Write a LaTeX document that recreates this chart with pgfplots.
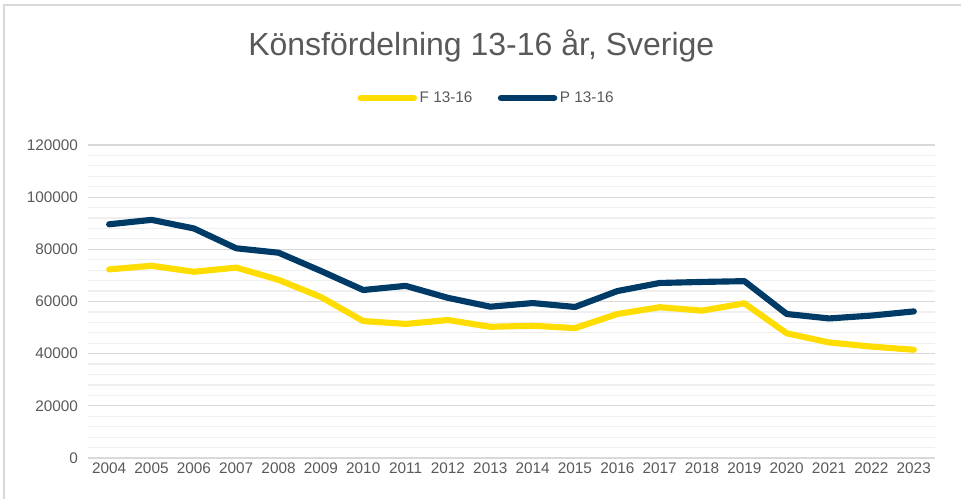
\documentclass[border=0pt]{standalone}
\usepackage{fontspec}
\setmainfont{Liberation Sans}
\usepackage{pgfplots}
\pgfplotsset{compat=1.18}
\definecolor{fy}{HTML}{FFDD00}
\definecolor{pn}{HTML}{003A66}
\definecolor{txt}{HTML}{595959}
\definecolor{gmaj}{HTML}{D9D9D9}
\definecolor{gmin}{HTML}{EFEFEF}

\begin{document}
\begin{tikzpicture}
\useasboundingbox (0,0) rectangle (720.75pt,374.25pt);
\draw[gmaj,line width=1.5pt] (2.7pt,0pt) -- (2.7pt,370.4pt) -- (720.75pt,370.4pt);
\node[txt,font=\fontsize{24}{28}\selectfont] at (361pt,340pt) {Könsfördelning 13-16 år, Sverige};
\begin{axis}[
  at={(66pt,30.75pt)}, anchor=south west,
  scale only axis, width=635.25pt, height=234.75pt,
  xmin=2003.5, xmax=2023.5, ymin=0, ymax=120000,
  xtick={2004,...,2023}, ytick={0,20000,...,120000},
  xticklabels={2004,2005,2006,2007,2008,2009,2010,2011,2012,2013,2014,2015,2016,2017,2018,2019,2020,2021,2022,2023},
  yticklabels={0,20000,40000,60000,80000,100000,120000},
  minor y tick num=4,
  axis line style={draw=none},
  major tick length=0pt, minor tick length=0pt,
  ymajorgrids, yminorgrids,
  major grid style={gmaj,line width=0.9pt},
  minor grid style={gmin,line width=0.9pt},
  tick label style={font=\fontsize{11.5}{13}\selectfont,text=txt},
  scaled y ticks=false,
  yticklabel style={xshift=-4pt},
  legend columns=2,
  legend style={at={(0.471,1.15)},anchor=center,draw=none,fill=none,
    font=\fontsize{11.5}{13}\selectfont,text=txt,
    /tikz/every even column/.append style={column sep=17pt}},
  legend image code/.code={\draw[#1,line cap=round] (0pt,0pt) -- (40pt,0pt);},
  legend cell align=left,
]
\addplot[fy,line width=4.6pt,line join=round,line cap=round] coordinates {
 (2004,72300) (2005,73700) (2006,71400) (2007,73000) (2008,68300)
 (2009,61700) (2010,52500) (2011,51400) (2012,52900) (2013,50300)
 (2014,50700) (2015,49800) (2016,55200) (2017,57800) (2018,56500)
 (2019,59300) (2020,47800) (2021,44300) (2022,42700) (2023,41500)
};
\addplot[pn,line width=4.6pt,line join=round,line cap=round] coordinates {
 (2004,89600) (2005,91300) (2006,88000) (2007,80400) (2008,78700)
 (2009,71700) (2010,64400) (2011,66000) (2012,61400) (2013,58000)
 (2014,59400) (2015,57900) (2016,64000) (2017,67100) (2018,67500)
 (2019,67800) (2020,55200) (2021,53500) (2022,54600) (2023,56200)
};
\legend{F 13-16, P 13-16}
\end{axis}
\end{tikzpicture}
\end{document}
